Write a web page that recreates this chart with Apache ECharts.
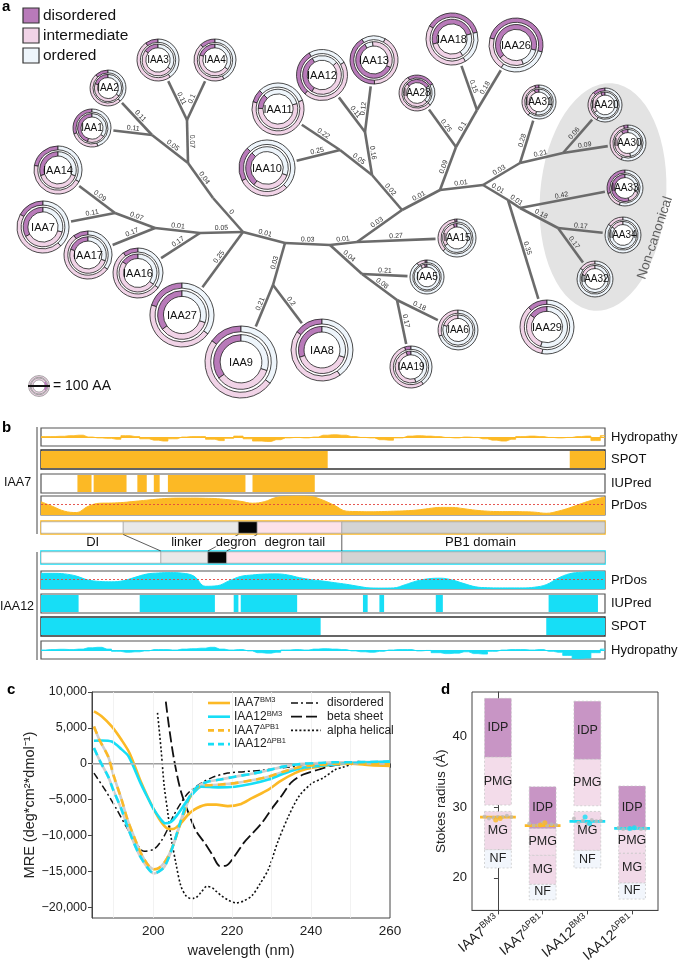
<!DOCTYPE html>
<html><head><meta charset="utf-8">
<script src="https://cdn.jsdelivr.net/npm/echarts@6/dist/echarts.min.js"></script>
<style>html,body{margin:0;padding:0;background:#fff}#c{width:685px;height:965px}</style>
</head><body><div id="c"></div><script>
// ================= DATA =================
// ---- panel a : donuts (tree leaves)
const donutNames = ['IAA1','IAA2','IAA3','IAA4','IAA14','IAA7','IAA17','IAA16','IAA27','IAA9','IAA8','IAA10','IAA11','IAA12','IAA13','IAA28','IAA18','IAA26','IAA31','IAA20','IAA30','IAA33','IAA34','IAA32','IAA29','IAA15','IAA5','IAA6','IAA19'];
const donutX = [92,108,158,215,58,43,88,138,182,241,322,267,278,322,374,417,452,516,539,605,628,625,623,595,547,457,427,458,411];
const donutY = [128,88,60,60,170,227,255,273,315,362,350,168,109,75,60,93,39,45,102,105,143,188,235,279,327,238,277,330,367];
const proteinLength = [181,171,200,200,229,248,229,238,305,343,295,267,248,243,229,171,248,257,162,162,171,171,171,171,257,181,162,190,200];
const donutStartHour = [0,0,0,0,0,0,0,0,0,0,0,10.5,10.5,11,11,2,2.5,3.5,0,0,0,0,0,0,0,0,0,0,0];
const outerDisordered   = [.30,.12,.10,.12,.22,.17,.10,.10,.20,.15,.15,.20,.08,.30,.42,.25,.375,.50,.04,.12,.04,.30,0,0,.12,.02,.02,0,.05];
const outerIntermediate = [.25,.50,.50,.45,.45,.45,.55,.55,.45,.50,.45,.30,.60,.45,.42,.55,.42,.20,.35,.30,.40,.15,.15,.15,.35,.35,.08,.30,.55];
const innerDisordered   = [.45,.20,.15,.20,.30,.33,.20,.15,.35,.35,.30,.27,.12,.33,.60,.30,.50,.65,.06,.05,.08,.55,0,0,.15,.04,.03,0,.05];
const innerIntermediate = [.20,.45,.50,.45,.40,.38,.50,.50,.35,.35,.40,.30,.55,.45,.33,.50,.30,.20,.40,.30,.45,.15,.15,.20,.30,.30,.05,.20,.50];
// ---- panel a : internal tree nodes & branches
const treeNodeNames = ['A','D','D2','E','F','B','G','H','I','J','K','L','M','N','O','P','Q','R','S','T','U','V','W','X','Y','Z','AA'];
const treeNodeX = [243,188,213,187,152,200,155,115,285,273,330,357,402,362,397,372,340,365,440,456,477,483,520,508,563,520,558];
const treeNodeY = [232,163,198,120,135,233,228,213,243,285,245,242,210,274,300,175,150,132,190,147,110,185,163,200,153,208,228];
const edgeFrom = ['D','E','E','D','F','F','D','D2','A','B','B','G','G','H','H','A','A','I','J','J','I','K','L','L','K','N','N','O','O','M','P','Q','Q','P','R','R','M','S','T','T','U','U','S','V','W','W','Y','Y','V','X','Z','Z','AA','AA','X'];
const edgeTo   = ['E','IAA3','IAA4','F','IAA1','IAA2','D2','A','B','IAA16','G','IAA17','H','IAA7','IAA14','IAA27','I','J','IAA9','IAA8','K','L','IAA15','M','N','IAA5','O','IAA6','IAA19','P','Q','IAA10','IAA11','R','IAA12','IAA13','S','T','IAA28','U','IAA18','IAA26','V','W','IAA31','Y','IAA20','IAA30','X','Z','IAA33','AA','IAA34','IAA32','IAA29'];
const edgeLength = ['0.07','0.11','0.1','0.05','0.11','0.11','0.04','0','0.05','0.17','0.01','0.17','0.07','0.11','0.09','0.25','0.01','0.03','0.21','0.2','0.03','0.01','0.27','0.03','0.04','0.21','0.08','0.18','0.17','0.02','0.05','0.25','0.22','0.16','0.11','0.12','0.01','0.09','0.25','0.1','0.15','0.18','0.01','0.03','0.28','0.21','0.06','0.09','0.01','0.01','0.42','0.18','0.17','0.17','0.35'];
const disorderLegend = ['disordered','intermediate','ordered'];

// ---- panel b : residue tracks (residue positions 0..240)
const hydroStep = 4;
const hydroIAA7 = [0.05,0.05,0.08,0.15,0.2,0.0,-0.1,-0.15,-0.25,0.15,0.05,-0.2,-0.35,-0.45,-0.2,0.0,0.05,0.05,-0.25,-0.4,-0.15,0.1,-0.2,-0.45,-0.5,-0.3,-0.1,-0.05,-0.1,0.0,0.2,0.25,0.2,0.05,-0.05,-0.1,-0.3,-0.35,-0.1,0.1,0.15,0.1,0.05,-0.05,-0.1,0.0,-0.05,-0.2,-0.35,-0.45,-0.25,0.05,0.1,0.05,-0.05,-0.1,-0.05,0.05,0.1,-0.4,0.15];
const hydroIAA12 = [0.0,0.05,0.08,0.05,0.1,0.25,0.3,0.1,-0.15,-0.25,-0.2,-0.1,0.05,0.05,0.0,0.1,0.15,0.2,0.3,0.1,0.0,0.05,-0.1,-0.3,-0.35,-0.25,0.0,0.05,0.0,0.1,0.15,0.1,0.05,-0.1,-0.2,-0.25,-0.15,0.0,0.05,0.05,-0.1,-0.05,-0.3,-0.4,-0.35,-0.2,-0.4,-0.45,-0.15,0.0,0.05,0.05,0.0,0.05,-0.15,-0.25,-0.6,-0.95,-0.9,-0.3,0.1];
const spotIAA7Start = [0,225], spotIAA7End = [122,240];
const spotIAA12Start = [0,215], spotIAA12End = [119,240];
const iupredIAA7Start = [15.5,22.4,41,48,54,90], iupredIAA7End = [21.5,36.4,45,50.5,87,116.5];
const iupredIAA12Start = [0,42,82,85,137,144,168,216], iupredIAA12End = [16,74,84,109,139,146,171,237];
const prdosStep = 5;
const prdosIAA7 = [0.7,0.45,0.2,0.13,0.45,0.62,0.63,0.66,0.72,0.78,0.84,0.88,0.89,0.89,0.88,0.86,0.8,0.72,0.62,0.7,0.92,0.98,1.0,0.97,0.78,0.5,0.2,0.18,0.17,0.18,0.2,0.22,0.26,0.34,0.4,0.4,0.33,0.25,0.2,0.18,0.18,0.17,0.15,0.09,0.2,0.38,0.6,0.8,0.95];
const prdosIAA12 = [0.87,0.87,0.84,0.72,0.5,0.42,0.4,0.46,0.65,0.83,0.89,0.91,0.88,0.72,0.15,0.18,0.45,0.7,0.78,0.83,0.84,0.78,0.63,0.52,0.44,0.35,0.26,0.15,0.06,0.05,0.06,0.24,0.45,0.57,0.6,0.5,0.3,0.12,0.07,0.06,0.06,0.06,0.1,0.24,0.6,0.85,0.93,0.96,0.96];
const prdosThreshold = 0.55;
const domainNames = ['DI','linker','degron','degron tail','PB1 domain'];
const domainIAA7Start = [0,35,84,92,128], domainIAA7End = [35,84,92,128,240];
const domainIAA12Start = [0,51,71,79,128], domainIAA12End = [51,71,79,128,240];

// ---- panel c : CD spectra
const wlIAA7BM3 = [185,187,189.5,192,194,196.8,198.5,200.2,202,203.5,205,207,209,211,213.8,216,218.9,222.3,225,229.2,232,235.9,239,242,246,250,255,260];
const mreIAA7BM3 = [7300,6600,5200,3300,1500,-2400,-4500,-6400,-8100,-9000,-9100,-8300,-7000,-6200,-5700,-5700,-5900,-5600,-4800,-3600,-2500,-1300,-700,-400,-100,0,-200,-300];
const wlIAA12BM3 = [185,187,189.5,192,193.8,196.8,198.5,200.2,202,203,204.5,206,208.8,210.5,212.2,216.5,220.7,225,229.2,233,237.7,242,246,250,255,260];
const mreIAA12BM3 = [3200,3250,3100,2000,1000,-2700,-4600,-6400,-7800,-8300,-8100,-7200,-5000,-3900,-3200,-3300,-3200,-2800,-2200,-1400,-600,-300,-100,100,200,300];
const wlIAA7dPB1 = [185,186.5,188.6,190,192,193.5,195.1,196.5,197.7,199,200.2,201.5,202.8,204,205.3,206.5,207.9,209,210.5,212,213.8,217,220.7,225,229.2,233,237.7,242,246,250,255,260];
const mreIAA7dPB1 = [5200,3200,1000,-1700,-5000,-7800,-10100,-12000,-13300,-14300,-14700,-14500,-13800,-12700,-11000,-9000,-6800,-5000,-3600,-3100,-3000,-2900,-2700,-2300,-1800,-1100,-400,-150,0,0,0,0];
const wlIAA12dPB1 = [185,186.5,188.6,190,192,193.5,195.1,196.5,197.7,199,200.2,201.5,202.8,204,205.3,206.5,207.9,209,210.5,212,213.8,217,220.7,225,229.2,233,237.7,242,246,250,255,260];
const mreIAA12dPB1 = [2200,400,-1800,-3800,-6400,-8800,-11000,-12700,-13800,-14800,-15300,-15000,-14400,-13000,-11000,-8800,-6400,-4800,-3600,-2900,-2500,-2200,-1800,-1400,-900,-400,0,100,200,200,250,300];
const wlDisordered = [185,188,190.8,193,195.1,197.7,200.2,202,203.6,205,207,209,212.2,215,218.9,223,227.6,232,236,240,242,246,250,252,255,260];
const mreDisordered = [-1300,-3800,-6400,-8600,-10500,-12200,-11900,-10800,-9200,-7400,-5500,-4000,-2700,-1900,-1300,-1100,-900,-600,-400,-200,0,100,200,300,100,0];
const wlBeta = [203.2,204,205.3,207,209.6,211,213,215,216.9,218.5,220.6,223,225,227.6,230,232.5,235,238,242,245,250,255,260];
const mreBeta = [8650,5200,550,-3800,-7800,-9500,-11000,-12700,-14260,-14200,-12900,-11000,-9800,-8200,-6300,-4500,-2600,-1500,-800,-300,0,0,-100];
const wlAlpha = [201.1,202,202.8,203.7,204.5,205.8,207,208.3,209.6,211,212.3,213.6,215,216,217.3,219,221,223,225,227,229.2,231.5,234.3,237,240.3,243,246.2,248,250.7,253,256,260];
const mreAlpha = [7100,2000,-3150,-6800,-10100,-14000,-17000,-18400,-18800,-18600,-17800,-17100,-17300,-17800,-18400,-19000,-19400,-19100,-18400,-16800,-14700,-11000,-7300,-4500,-2700,-2000,-800,-500,0,200,100,0];
const mreTicks = [-20000,-15000,-10000,-5000,0,5000,10000];
const wlTicks = [200,220,240,260];

// ---- panel d : Stokes radius
const constructBase = ['IAA7','IAA7','IAA12','IAA12'];
const constructSup = ['BM3','ΔPB1','BM3','ΔPB1'];
const rangeNames = ['NF','MG','PMG','IDP'];
const rsNF  = [[21.4,24.0],[16.9,19.1],[21.4,23.9],[17.0,19.3]];
const rsMG  = [[24.0,29.4],[19.1,23.2],[23.9,29.4],[19.3,23.5]];
const rsPMG = [[30.3,37.1],[23.2,27.0],[30.2,36.8],[23.5,27.0]];
const rsIDP = [[37.1,45.4],[27.0,32.9],[36.8,45.0],[27.0,33.0]];
const rsMeasured = [28.6,27.4,28.0,27.0];
const repOffset = [-0.3,-0.2,-0.1,0,0.1,0.2,0.3];
const rsReplicates = [[28.7,28.4,28.5,28.6,28.6,28.8,28.6],[27.7,27.4,27.5,27.8,27.4,27.6,27.5],[28.4,27.8,28.1,27.7,28.2,28.0,28.1],[27.1,26.9,27.0,27.0,27.1,26.9,27.0]];
const rsColoredReps = [[28.2,28.4],[27.5,27.8],[28.6,27.7],[27.0,27.1]];
const coloredOffset = [-0.05,0.05];
const rsTicks = [20,30,40];

// ================= STYLE & BUILD =================
const FONT = '"Liberation Sans", Arial, Helvetica, sans-serif';
const ORANGE = '#fcb925', CYAN = '#17def6';
const DCOL = ['#b87ab9','#f1d3e7','#eef5fb'];
const RPX = 0.105; // ring radius (px) per amino acid
const chart = echarts.init(document.getElementById('c'), null, {width:685, height:965});

const grids = [], xAxes = [], yAxes = [], series = [], G = [];
function addGrid(g, x, y){ grids.push(g); x.gridIndex = grids.length-1; y.gridIndex = grids.length-1; xAxes.push(x); yAxes.push(y); return grids.length-1; }

// ---------- panel a
const ga = addGrid({left:0, top:0, width:685, height:400, show:false},
  {type:'value', min:0, max:685, show:false}, {type:'value', min:0, max:400, inverse:true, show:false});
const nodePos = {};
treeNodeNames.forEach((n,i)=>nodePos[n]=[treeNodeX[i],treeNodeY[i]]);
donutNames.forEach((n,i)=>nodePos[n]=[donutX[i],donutY[i]]);
const edgeData = edgeFrom.map((f,i)=>{
  const a = nodePos[f]; let b = nodePos[edgeTo[i]];
  const di = donutNames.indexOf(edgeTo[i]);
  if (di >= 0) { const R = proteinLength[di]*RPX + 2.5; const dx=b[0]-a[0], dy=b[1]-a[1]; const L=Math.hypot(dx,dy); b=[b[0]-dx/L*R, b[1]-dy/L*R]; }
  return {coords:[a,b], value:edgeLength[i]};
});
series.push({type:'lines', coordinateSystem:'cartesian2d', xAxisIndex:ga, yAxisIndex:ga, z:2, silent:true,
  lineStyle:{color:'#6b6b6b', width:2.6, opacity:1, curveness:0},
  label:{show:true, position:'middle', formatter:p=>edgeLength[p.dataIndex], fontSize:7, color:'#333', fontFamily:FONT, distance:1},
  data:edgeData});
series.push({type:'custom', coordinateSystem:'cartesian2d', xAxisIndex:ga, yAxisIndex:ga, z:4, silent:true,
  data: donutNames.map((n,i)=>[donutX[i],donutY[i],proteinLength[i],donutStartHour[i],outerDisordered[i],outerIntermediate[i],innerDisordered[i],innerIntermediate[i]]),
  renderItem:(params, api)=>{
    const i = params.dataIndex;
    const c = api.coord([api.value(0), api.value(1)]);
    const R = api.size([api.value(2)*RPX, 0])[0];
    const st = -Math.PI/2 + api.value(3)/12*2*Math.PI;
    const rings = [[R*0.84, R, api.value(4), api.value(5)], [R*0.58, R*0.76, api.value(6), api.value(7)]];
    const ch = [{type:'circle', shape:{cx:c[0],cy:c[1],r:R}, style:{fill:'#fff', stroke:null}}];
    rings.forEach(([r0,r,d,m])=>{
      const fr=[d,m,1-d-m]; let acc=0;
      fr.forEach((f,k)=>{
        if (f <= 0.001) return;
        const a1 = st - acc*2*Math.PI, a0 = st - (acc+f)*2*Math.PI; acc += f;
        ch.push({type:'sector', shape:{cx:c[0],cy:c[1],r0:r0,r:r,startAngle:a0,endAngle:a1,clockwise:true}, style:{fill:DCOL[k], stroke:'#1e1e1e', lineWidth:0.8}});
      });
    });
    ch.push({type:'text', style:{text:donutNames[i], x:c[0], y:c[1]+0.5, align:'center', verticalAlign:'middle', fontSize: R>=24?11:10, fontFamily:FONT, fill:'#111'}});
    return {type:'group', children:ch};
  }});

// legend for a
disorderLegend.forEach((t,k)=>{
  G.push({type:'rect', shape:{x:23, y:8+k*20, width:16, height:15}, style:{fill:DCOL[k], stroke:'#333', lineWidth:1.2}, z:100});
  G.push({type:'text', x:43, y:15.5+k*20, style:{text:t, fontSize:15.5, fontFamily:FONT, fill:'#111', align:'left', verticalAlign:'middle'}, z:100});
});
G.push({type:'text', x:2, y:-1, style:{text:'a', fontSize:15, fontWeight:'bold', fontFamily:FONT, fill:'#000'}, z:100});
// non-canonical ellipse
G.push({type:'circle', shape:{cx:0, cy:0, r:1}, x:603, y:197, scaleX:63, scaleY:114, rotation:-0.08, style:{fill:'#e3e3e3'}, z:0});
G.push({type:'text', x:655, y:238, rotation:1.25, style:{text:'Non-canonical', fontSize:13.5, fontFamily:FONT, fill:'#5f5f5f', align:'center', verticalAlign:'middle'}, z:100});
// scale icon
G.push({type:'ring', shape:{cx:39, cy:386, r:10.5, r0:8.8}, style:{fill:'#ecd4e4', stroke:'#777', lineWidth:0.6}, z:100});
G.push({type:'ring', shape:{cx:39, cy:386, r:8, r0:6.1}, style:{fill:'#ecd4e4', stroke:'#777', lineWidth:0.6}, z:100});
G.push({type:'sector', shape:{cx:39, cy:386, r:8, r0:6.1, startAngle:-0.6, endAngle:0.6}, style:{fill:'#b87ab9'}, z:100});
G.push({type:'line', shape:{x1:28, y1:386, x2:50, y2:386}, style:{stroke:'#111', lineWidth:2}, z:101});
G.push({type:'text', x:53, y:386, style:{text:'= 100 AA', fontSize:14, fontFamily:FONT, fill:'#111', verticalAlign:'middle'}, z:100});

// ---------- panel b
const BL = 41, BW = 564, RMAX = 240;
const X = r => BL + r/RMAX*BW;
function rangeSeries(gi, starts, ends, color){
  return {type:'custom', coordinateSystem:'cartesian2d', xAxisIndex:gi, yAxisIndex:gi, silent:true,
    data: starts.map((s,i)=>[s, ends[i]]),
    renderItem:(p, api)=>{
      const a = api.coord([api.value(0), 1]), b = api.coord([api.value(1), 0]);
      return {type:'rect', shape:{x:a[0], y:a[1]+1, width:b[0]-a[0], height:b[1]-a[1]-2}, style:{fill:color}};
    }};
}
function trackGrid(top, h, border, bw){
  return addGrid({left:BL, top:top, width:BW, height:h, show:true, borderColor:border, borderWidth:bw||1.2},
    {type:'value', min:0, max:RMAX, show:false}, {type:'value', min:0, max:1, show:false});
}
function hydro(top, vals, color){
  const gi = addGrid({left:BL, top:top, width:BW, height:18, show:true, borderColor:'#555', borderWidth:1.2},
    {type:'value', min:0, max:RMAX, show:false}, {type:'value', min:-1, max:1, show:false});
  series.push({type:'line', xAxisIndex:gi, yAxisIndex:gi, step:'middle', symbol:'none', silent:true,
    data: vals.map((v,i)=>[i*hydroStep, v]), lineStyle:{color:color, width:0.8}, areaStyle:{color:color, opacity:1},
    markLine:{silent:true, symbol:['none','none'], label:{show:false}, lineStyle:{color:color, width:1.2, type:'solid'}, data:[{yAxis:0}]}});
}
function prdos(top, h, vals, color){
  const gi = trackGrid(top, h, '#555');
  series.push({type:'line', xAxisIndex:gi, yAxisIndex:gi, smooth:0.4, symbol:'none', silent:true,
    data: vals.map((v,i)=>[i*prdosStep, v]), lineStyle:{color:color, width:1}, areaStyle:{color:color, opacity:1},
    markLine:{silent:true, symbol:['none','none'], label:{show:false}, lineStyle:{color:'#e2463f', width:0.9, type:[2,2]}, data:[{yAxis:prdosThreshold}]}});
}
function domainBar(top, starts, ends, border){
  const gi = trackGrid(top, 13, border, 1.6);
  const DC = {'DI':'#ffffff','linker':'#e9e9e9','degron':'#050505','degron tail':'#fde2e9','PB1 domain':'#d4d4d4'};
  series.push({type:'custom', coordinateSystem:'cartesian2d', xAxisIndex:gi, yAxisIndex:gi, silent:true, z:1,
    data: starts.map((s,i)=>[s, ends[i]]),
    renderItem:(p, api)=>{
      const a = api.coord([api.value(0), 1]), b = api.coord([api.value(1), 0]);
      return {type:'rect', shape:{x:a[0], y:a[1]+0.8, width:b[0]-a[0], height:b[1]-a[1]-1.6}, style:{fill:DC[domainNames[p.dataIndex]], stroke:'#9a9a9a', lineWidth:0.6}};
    }});
}
hydro(428, hydroIAA7, ORANGE);
let gi = trackGrid(450, 19, '#333', 1.4); series.push(rangeSeries(gi, spotIAA7Start, spotIAA7End, ORANGE));
gi = trackGrid(474, 19, '#555'); series.push(rangeSeries(gi, iupredIAA7Start, iupredIAA7End, ORANGE));
prdos(496, 19, prdosIAA7, ORANGE);
domainBar(521, domainIAA7Start, domainIAA7End, ORANGE);
domainBar(551, domainIAA12Start, domainIAA12End, CYAN);
prdos(571, 18, prdosIAA12, CYAN);
gi = trackGrid(594, 19, '#555'); series.push(rangeSeries(gi, iupredIAA12Start, iupredIAA12End, CYAN));
gi = trackGrid(617, 19, '#333', 1.4); series.push(rangeSeries(gi, spotIAA12Start, spotIAA12End, CYAN));
hydro(641, hydroIAA12, CYAN);

[['Hydropathy',437],['SPOT',459.5],['IUPred',483.5],['PrDos',505.5],['PrDos',580],['IUPred',603.5],['SPOT',626.5],['Hydropathy',650]].forEach(([t,y])=>{
  G.push({type:'text', x:611, y:y, style:{text:t, fontSize:13, fontFamily:FONT, fill:'#111', verticalAlign:'middle'}, z:100});
});
G.push({type:'text', x:2, y:420, style:{text:'b', fontSize:15, fontWeight:'bold', fontFamily:FONT, fill:'#000'}, z:100});
G.push({type:'text', x:4, y:483, style:{text:'IAA7', fontSize:12.5, fontFamily:FONT, fill:'#111', verticalAlign:'middle'}, z:100});
G.push({type:'text', x:0, y:607, style:{text:'IAA12', fontSize:12.5, fontFamily:FONT, fill:'#111', verticalAlign:'middle'}, z:100});
G.push({type:'line', shape:{x1:37, y1:427, x2:37, y2:534}, style:{stroke:'#444', lineWidth:1}, z:100});
G.push({type:'line', shape:{x1:37, y1:552, x2:37, y2:660}, style:{stroke:'#444', lineWidth:1}, z:100});
// connectors between the two domain bars
const conn = [[domainIAA7End[0], domainIAA12End[0]], [domainIAA7Start[2], domainIAA12Start[2]], [domainIAA7End[2], domainIAA12End[2]], [domainIAA7End[3], domainIAA12End[3]]];
conn.forEach(([a,b])=>G.push({type:'line', shape:{x1:X(a), y1:534.5, x2:X(b), y2:551}, style:{stroke:'#333', lineWidth:0.8}, z:100}));
const domLabelPos = [22, 62, 83, 108, 187];
domainNames.forEach((t,i)=>G.push({type:'text', x:X(domLabelPos[i]), y:542.5, style:{text:t, fontSize:13, fontFamily:FONT, fill:'#111', align:'center', verticalAlign:'middle', backgroundColor: t==='degron'?'rgba(255,255,255,0.9)':null}, z:100}));

// ---------- panel c
const fmtK = v => v===0 ? '0' : (v<0?'\u2212':'') + String(Math.abs(v)).replace(/\B(?=(\d{3})+(?!\d))/g, ',');
const gc = addGrid({left:92, top:692, width:298, height:226, show:true, borderColor:'#444', borderWidth:1},
  {type:'value', min:184.5, max:260, splitLine:{show:false}, axisLine:{lineStyle:{color:'#444'}},
   axisTick:{customValues:wlTicks, length:4, lineStyle:{color:'#444'}}, axisLabel:{customValues:wlTicks, fontSize:13.5, color:'#222', fontFamily:FONT, margin:6},
   name:'wavelength (nm)', nameLocation:'middle', nameGap:25, nameTextStyle:{fontSize:14.5, color:'#222', fontFamily:FONT}},
  {type:'value', min:-21500, max:10000, splitLine:{show:false}, axisLine:{show:true, lineStyle:{color:'#444'}},
   axisTick:{show:true, customValues:mreTicks, length:4, lineStyle:{color:'#444'}}, axisLabel:{customValues:mreTicks, formatter:fmtK, fontSize:12.5, color:'#222', fontFamily:FONT, margin:5},
   name:'MRE (deg*cm\u00b2*dmol\u207b\u00b9)', nameLocation:'middle', nameGap:47, nameTextStyle:{fontSize:14.5, color:'#222', fontFamily:FONT}});
function cLine(wl, mre, color, width, dash, z){
  return {type:'line', xAxisIndex:gc, yAxisIndex:gc, smooth:0.3, symbol:'none', silent:true, z:z||3,
    data: wl.map((w,i)=>[w, mre[i]]), lineStyle:{color:color, width:width, type:dash||'solid'}};
}
series.push({type:'line', xAxisIndex:gc, yAxisIndex:gc, data:[], silent:true, z:1,
  markLine:{silent:true, symbol:['none','none'], label:{show:false}, animation:false,
    data:[{xAxis:190, lineStyle:{color:'#efefef', width:0.8, type:'solid'}},{xAxis:200, lineStyle:{color:'#efefef', width:0.8, type:'solid'}},{xAxis:210, lineStyle:{color:'#efefef', width:0.8, type:'solid'}},{xAxis:220, lineStyle:{color:'#efefef', width:0.8, type:'solid'}},{xAxis:230, lineStyle:{color:'#efefef', width:0.8, type:'solid'}},{xAxis:240, lineStyle:{color:'#efefef', width:0.8, type:'solid'}},{xAxis:250, lineStyle:{color:'#efefef', width:0.8, type:'solid'}},
      {yAxis:0, lineStyle:{color:'#bdbdbd', width:1.6, type:'solid'}}]}});
series.push(cLine(wlDisordered, mreDisordered, '#111', 1.5, [7,3,2,3]));
series.push(cLine(wlBeta, mreBeta, '#111', 1.8, [11,4]));
series.push(cLine(wlAlpha, mreAlpha, '#111', 1.6, [2,2.2]));
series.push(cLine(wlIAA7dPB1, mreIAA7dPB1, '#cfcfcf', 2.6, 'solid', 3));
series.push(cLine(wlIAA12dPB1, mreIAA12dPB1, '#cfcfcf', 2.6, 'solid', 3));
series.push(cLine(wlIAA7BM3, mreIAA7BM3, ORANGE, 2.6, 'solid', 4));
series.push(cLine(wlIAA12BM3, mreIAA12BM3, CYAN, 2.6, 'solid', 4));
series.push(cLine(wlIAA7dPB1, mreIAA7dPB1, ORANGE, 2.6, [8,5], 5));
series.push(cLine(wlIAA12dPB1, mreIAA12dPB1, CYAN, 2.6, [8,5], 5));
G.push({type:'text', x:7, y:682, style:{text:'c', fontSize:15, fontWeight:'bold', fontFamily:FONT, fill:'#000'}, z:100});
const richC = {n:{fontSize:12, fontFamily:FONT, fill:'#222', lineHeight:14}, s:{fontSize:7.5, fontFamily:FONT, fill:'#222', verticalAlign:'top', lineHeight:8}};
[[ORANGE,'solid','IAA7','BM3'],[CYAN,'solid','IAA12','BM3'],[ORANGE,[6,4],'IAA7','ΔPB1'],[CYAN,[6,4],'IAA12','ΔPB1']].forEach(([col,ds,a,b],k)=>{
  const y = 703 + k*13.7;
  G.push({type:'line', shape:{x1:208, y1:y, x2:230, y2:y}, style:{stroke:col, lineWidth:2.6, lineDash:ds==='solid'?null:ds}, z:100});
  G.push({type:'text', x:234, y:y, style:{text:'{n|'+a+'}{s|'+b+'}', rich:richC, verticalAlign:'middle'}, z:100});
});
[[[7,3,2,3],'disordered',1.5],[[11,4],'beta sheet',1.8],[[2,2.2],'alpha helical',1.6]].forEach(([ds,t,w],k)=>{
  const y = 703 + k*13.7;
  G.push({type:'line', shape:{x1:291, y1:y, x2:321, y2:y}, style:{stroke:'#111', lineWidth:w, lineDash:ds}, z:100});
  G.push({type:'text', x:327, y:y, style:{text:t, fontSize:12, fontFamily:FONT, fill:'#222', verticalAlign:'middle'}, z:100});
});

// ---------- panel d
const richD = {n:{fontSize:14, fontFamily:FONT, color:'#222', lineHeight:18}, s:{fontSize:9, fontFamily:FONT, color:'#222', verticalAlign:'top', lineHeight:10}};
const catIdx = [0,1,2,3];
const gd = addGrid({left:472, top:692, width:186, height:226, show:true, borderColor:'#444', borderWidth:1},
  {type:'value', min:-0.58, max:3.58, splitLine:{show:false}, axisLine:{lineStyle:{color:'#444'}},
   axisTick:{customValues:catIdx, length:4, lineStyle:{color:'#444'}},
   axisLabel:{customValues:catIdx, rotate:40, margin:8, formatter:v=>'{n|'+constructBase[Math.round(v)]+'}{s|'+constructSup[Math.round(v)]+'}', rich:richD}},
  {type:'value', min:15.4, max:46.3, splitLine:{show:false}, axisLine:{show:true, lineStyle:{color:'#444'}},
   axisTick:{show:true, customValues:rsTicks, length:4, lineStyle:{color:'#444'}}, axisLabel:{customValues:rsTicks, fontSize:13, color:'#222', fontFamily:FONT, margin:5},
   name:'Stokes radius (\u00c5)', nameLocation:'middle', nameGap:22, nameTextStyle:{fontSize:13.5, color:'#222', fontFamily:FONT}});
const RCOL = {NF:'#f2f6fc', MG:'#f1d9e8', PMG:'#f3dcea', IDP:'#c895c5'};
const boxData = [];
[rsNF, rsMG, rsPMG, rsIDP].forEach((arr,t)=>arr.forEach((r,i)=>boxData.push([i, r[0], r[1], t])));
series.push({type:'custom', coordinateSystem:'cartesian2d', xAxisIndex:gd, yAxisIndex:gd, silent:true, z:2, data:boxData,
  renderItem:(p, api)=>{
    const i = api.value(0), t = rangeNames[api.value(3)];
    const a = api.coord([i-0.3, api.value(2)]), b = api.coord([i+0.3, api.value(1)]);
    const cy = (a[1]+b[1])/2;
    return {type:'group', children:[
      {type:'rect', shape:{x:a[0], y:a[1], width:b[0]-a[0], height:b[1]-a[1]}, style:{fill:RCOL[t], stroke:'#c4c4c4', lineWidth:0.7, lineDash:[2,2]}},
      {type:'text', style:{text:t, x:(a[0]+b[0])/2, y:cy, align:'center', verticalAlign:'middle', fontSize:12.5, fontFamily:FONT, fill:'#222'}}
    ]};
  }});
series.push({type:'custom', coordinateSystem:'cartesian2d', xAxisIndex:gd, yAxisIndex:gd, silent:true, z:3,
  data: rsMeasured.map((v,i)=>[i, v]),
  renderItem:(p, api)=>{
    const i = api.value(0);
    const a = api.coord([i-0.4, api.value(1)]), b = api.coord([i+0.4, api.value(1)]);
    return {type:'line', shape:{x1:a[0], y1:a[1], x2:b[0], y2:b[1]}, style:{stroke: constructBase[i]==='IAA7'?ORANGE:CYAN, lineWidth:2.6}};
  }});
const grayPts = [], colPts = [];
rsReplicates.forEach((vals,i)=>vals.forEach((v,k)=>grayPts.push([i+repOffset[k], v])));
rsColoredReps.forEach((vals,i)=>vals.forEach((v,k)=>colPts.push({value:[i+coloredOffset[k], v], itemStyle:{color: constructBase[i]==='IAA7'?ORANGE:CYAN}})));
series.push({type:'scatter', xAxisIndex:gd, yAxisIndex:gd, silent:true, z:4, symbolSize:4, itemStyle:{color:'#b9b9b9'}, data:grayPts});
series.push({type:'scatter', xAxisIndex:gd, yAxisIndex:gd, silent:true, z:5, symbolSize:5, data:colPts});
G.push({type:'text', x:441, y:682, style:{text:'d', fontSize:15, fontWeight:'bold', fontFamily:FONT, fill:'#000'}, z:100});

chart.setOption({animation:false, backgroundColor:'#fff', textStyle:{fontFamily:FONT},
  grid:grids, xAxis:xAxes, yAxis:yAxes, series:series, graphic:{elements:G}});
</script></body></html>
